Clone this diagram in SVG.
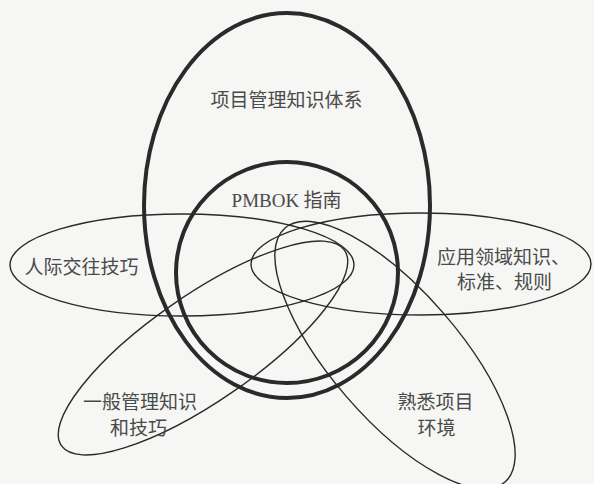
<svg xmlns="http://www.w3.org/2000/svg" width="594" height="484" viewBox="0 0 594 484">
<style>
.bg{fill:#f6f6f4}
.thick{fill:none;stroke:#2a2a2a;stroke-width:4}
.thin{fill:none;stroke:#2a2a2a;stroke-width:1.4}
.lbl{font-family:"Noto Sans CJK SC","Noto Sans",sans-serif;font-size:19px;fill:#4a4a4a}
.lat{font-family:"Liberation Serif",serif}
</style>
<rect class="bg" x="0" y="0" width="594" height="484"/>
<g id="pmbok-body">
  <ellipse class="thick" cx="287" cy="205.5" rx="143" ry="192.5"/>
  <text class="lbl" x="286.5" y="107" text-anchor="middle">项目管理知识体系</text>
</g>
<g id="pmbok-guide">
  <ellipse class="thick" cx="287" cy="272.5" rx="111" ry="110.5"/>
  <text class="lbl" x="286.5" y="207" text-anchor="middle"><tspan class="lat">PMBOK</tspan> 指南</text>
</g>
<g id="interpersonal">
  <ellipse class="thin" cx="182" cy="265" rx="172" ry="51"/>
  <text class="lbl" x="81.5" y="274" text-anchor="middle">人际交往技巧</text>
</g>
<g id="application-area">
  <ellipse class="thin" cx="421" cy="264" rx="170" ry="51"/>
  <text class="lbl" x="437" y="264">应用领域知识、</text>
  <text class="lbl" x="457" y="289">标准、规则</text>
</g>
<g id="general-management">
  <ellipse class="thin" cx="203" cy="348" rx="172" ry="53" transform="rotate(-34.6 203 348)"/>
  <text class="lbl" x="140" y="409" text-anchor="middle">一般管理知识</text>
  <text class="lbl" x="138.5" y="435" text-anchor="middle">和技巧</text>
</g>
<g id="project-environment">
  <ellipse class="thin" cx="395" cy="355" rx="168" ry="64" transform="rotate(49.1 395 355)"/>
  <text class="lbl" x="435.5" y="409" text-anchor="middle">熟悉项目</text>
  <text class="lbl" x="436.5" y="435" text-anchor="middle">环境</text>
</g>
</svg>
